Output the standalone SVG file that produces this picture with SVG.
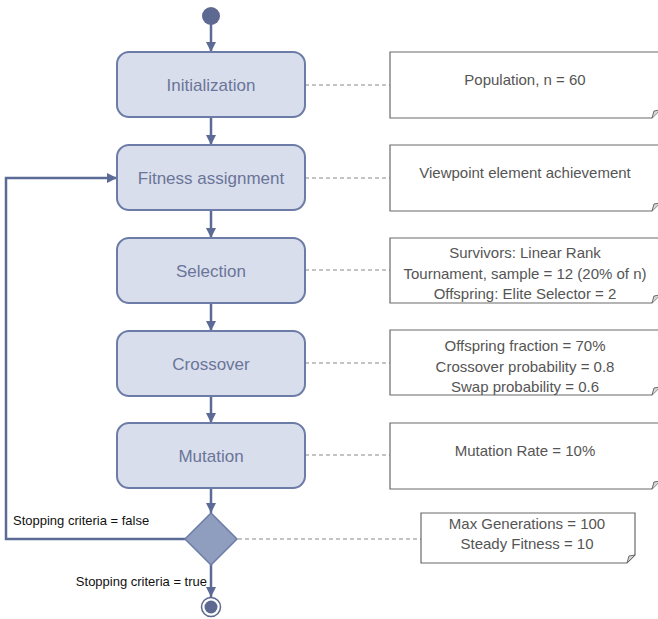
<svg xmlns="http://www.w3.org/2000/svg" width="658" height="619" viewBox="0 0 658 619">
<defs>
<marker id="arr" viewBox="0 0 10 10" refX="10" refY="5" markerWidth="4" markerHeight="4" orient="auto" markerUnits="strokeWidth">
<path d="M0,0 L10,5 L0,10 Z" fill="#5b6b95"/>
</marker>
<style>
.node rect{fill:#d9deed;stroke:#6d7ca6;stroke-width:2}
.node text{font-family:"Liberation Sans",Arial,sans-serif;font-size:17px;fill:#6a7598;text-anchor:middle}
.note path.b{fill:#fff;stroke:#6a6a6a;stroke-width:1.2}
.note path.f{fill:#d8d8d8;stroke:#6a6a6a;stroke-width:1}
.note text{font-family:"Liberation Sans",Arial,sans-serif;font-size:15px;fill:#555;text-anchor:middle}
.conn{stroke:#5b6b95;stroke-width:2.5;fill:none}
.dash{stroke:#888;stroke-width:1;stroke-dasharray:4,3;fill:none}
.lbl{font-family:"Liberation Sans",Arial,sans-serif;font-size:13px;fill:#111}
</style>
</defs>
<rect width="658" height="619" fill="#fff"/>

<g id="connectors">
<line class="conn" x1="211" y1="24" x2="211" y2="52" marker-end="url(#arr)"/>
<line class="conn" x1="211" y1="117" x2="211" y2="145" marker-end="url(#arr)"/>
<line class="conn" x1="211" y1="210" x2="211" y2="238" marker-end="url(#arr)"/>
<line class="conn" x1="211" y1="303" x2="211" y2="331" marker-end="url(#arr)"/>
<line class="conn" x1="211" y1="396" x2="211" y2="423" marker-end="url(#arr)"/>
<line class="conn" x1="211" y1="488" x2="211" y2="513" marker-end="url(#arr)"/>
<line class="conn" x1="211" y1="564" x2="211" y2="597" marker-end="url(#arr)"/>
<path class="conn" d="M186,539 H6 V178 H117" marker-end="url(#arr)"/>
<line class="dash" x1="305" y1="85" x2="390" y2="85"/>
<line class="dash" x1="305" y1="178" x2="390" y2="178"/>
<line class="dash" x1="305" y1="270" x2="390" y2="270"/>
<line class="dash" x1="305" y1="363" x2="390" y2="363"/>
<line class="dash" x1="305" y1="455" x2="390" y2="455"/>
<line class="dash" x1="238" y1="539" x2="421" y2="539"/>
<text class="lbl" x="13" y="525">Stopping criteria = false</text>
<text class="lbl" x="207" y="586" text-anchor="end">Stopping criteria = true</text>
</g>

<g id="start"><circle cx="211" cy="16" r="9" fill="#5d6990"/></g>

<g id="initialization" class="node"><rect x="117" y="52" width="188" height="65" rx="12"/><text x="211" y="91">Initialization</text></g>
<g id="fitness" class="node"><rect x="117" y="145" width="188" height="65" rx="12"/><text x="211" y="184">Fitness assignment</text></g>
<g id="selection" class="node"><rect x="117" y="238" width="188" height="65" rx="12"/><text x="211" y="277">Selection</text></g>
<g id="crossover" class="node"><rect x="117" y="331" width="188" height="65" rx="12"/><text x="211" y="370">Crossover</text></g>
<g id="mutation" class="node"><rect x="117" y="423" width="188" height="65" rx="12"/><text x="211" y="462">Mutation</text></g>

<g id="decision"><path d="M211,513 L237,539 L211,565 L185,539 Z" fill="#8f9dbf" stroke="#6d7ca6" stroke-width="1.5"/></g>

<g id="end"><circle cx="211" cy="607" r="9.5" fill="#fff" stroke="#5d6990" stroke-width="1.5"/><circle cx="211" cy="607" r="6.5" fill="#5d6990"/></g>

<g id="note-init" class="note"><path class="b" d="M390,52 H660 V110 L652,118 H390 Z"/><path class="f" d="M652,118 L654,111 L660,110"/><text x="525" y="85">Population, n = 60</text></g>
<g id="note-fitness" class="note"><path class="b" d="M390,145 H660 V203 L652,211 H390 Z"/><path class="f" d="M652,211 L654,204 L660,203"/><text x="525" y="178">Viewpoint element achievement</text></g>
<g id="note-selection" class="note"><path class="b" d="M390,238 H660 V295 L652,303 H390 Z"/><path class="f" d="M652,303 L654,296 L660,295"/><text x="525" y="258">Survivors: Linear Rank</text><text x="525" y="279">Tournament, sample = 12 (20% of n)</text><text x="525" y="299">Offspring: Elite Selector = 2</text></g>
<g id="note-crossover" class="note"><path class="b" d="M390,330 H660 V387 L652,395 H390 Z"/><path class="f" d="M652,395 L654,388 L660,387"/><text x="525" y="351">Offspring fraction = 70%</text><text x="525" y="372">Crossover probability = 0.8</text><text x="525" y="392">Swap probability = 0.6</text></g>
<g id="note-mutation" class="note"><path class="b" d="M390,423 H660 V481 L652,489 H390 Z"/><path class="f" d="M652,489 L654,482 L660,481"/><text x="525" y="456">Mutation Rate = 10%</text></g>
<g id="note-stop" class="note"><path class="b" d="M421,513 H635 V555 L627,563 H421 Z"/><path class="f" d="M627,563 L629,556 L635,555 Z"/><text x="527" y="529">Max Generations = 100</text><text x="527" y="549">Steady Fitness = 10</text></g>
</svg>
